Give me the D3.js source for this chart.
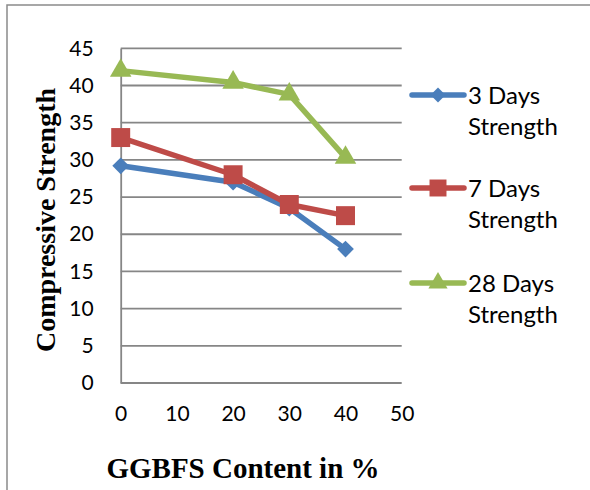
<!DOCTYPE html>
<html>
<head>
<meta charset="utf-8">
<script src="https://cdn.jsdelivr.net/npm/d3@7"></script>
<style>
  body { margin: 0; background: #fff; }
  .tick text { font-family: Lato, "Open Sans", sans-serif; font-size: 21px; fill: #000; }
  .axisTitle { font-family: "Liberation Serif", "Times New Roman", serif; font-weight: bold; }
  .legendText { font-family: Lato, "Open Sans", sans-serif; font-size: 24px; }
</style>
</head>
<body>
<svg width="590" height="490"></svg>
<script>
var width = 590;
var height = 490;

var ggbfs = [0, 20, 30, 40];
var days3 = [29.2, 27, 23.5, 18];
var days7 = [33, 28, 24, 22.5];
var days28 = [42, 40.4, 38.8, 30.3];
var seriesNames = ["3 Days", "7 Days", "28 Days"];
var xTicks = [0, 10, 20, 30, 40, 50];
var yTicks = [0, 5, 10, 15, 20, 25, 30, 35, 40, 45];

var colors = ["#4a7ebb", "#be4b48", "#98b954"];
var symbols = [d3.symbolSquare, d3.symbolSquare, d3.symbolTriangle];
var symSizes = [140, 360, 200];
var symRotate = [45, 0, 0];

var svg = d3.select("svg");

// outer frame
svg.append("rect")
  .attr("x", 7).attr("y", 5)
  .attr("width", 600).attr("height", 500)
  .attr("fill", "none").attr("stroke", "#8a8a8a").attr("stroke-width", 1.5);

var x = d3.scaleLinear().domain([0, 50]).range([120.7, 401.7]);
var y = d3.scaleLinear().domain([0, 45]).range([383, 48.3]);

// gridlines
svg.append("g").selectAll("line").data(yTicks)
  .enter().append("line")
  .attr("x1", x(0)).attr("x2", x(50))
  .attr("y1", function(d){ return y(d); })
  .attr("y2", function(d){ return y(d); })
  .attr("stroke", "#868686").attr("stroke-width", 1.8);

// y axis
var yAxis = svg.append("g")
  .attr("transform", "translate(" + x(0) + ",0)")
  .call(d3.axisLeft(y).tickValues(yTicks).tickSize(0).tickPadding(27));
yAxis.select(".domain").attr("stroke", "#868686").attr("stroke-width", 1.8);

// x axis
var xAxis = svg.append("g")
  .attr("transform", "translate(0," + y(0) + ")")
  .call(d3.axisBottom(x).tickValues(xTicks).tickSize(0).tickPadding(23));
xAxis.select(".domain").remove();

var allSeries = [days3, days7, days28];
var line = d3.line()
  .x(function(d, i){ return x(ggbfs[i]); })
  .y(function(d){ return y(d); });

allSeries.forEach(function(vals, k){
  svg.append("path")
    .datum(vals)
    .attr("d", line)
    .attr("fill", "none")
    .attr("stroke", colors[k])
    .attr("stroke-width", 5.5)
    .attr("stroke-linejoin", "round");
  svg.append("g").selectAll("path").data(vals)
    .enter().append("path")
    .attr("d", d3.symbol().type(symbols[k]).size(symSizes[k]))
    .attr("transform", function(d, i){
      return "translate(" + x(ggbfs[i]) + "," + y(d) + ") rotate(" + symRotate[k] + ")";
    })
    .attr("fill", colors[k]);
});

// legend
var legendY = [95, 188, 283];
seriesNames.forEach(function(name, k){
  var g = svg.append("g").attr("transform", "translate(0," + legendY[k] + ")");
  g.append("line")
    .attr("x1", 412).attr("x2", 464)
    .attr("y1", 0).attr("y2", 0)
    .attr("stroke", colors[k]).attr("stroke-width", 5.5)
    .attr("stroke-linecap", "round");
  g.append("path")
    .attr("d", d3.symbol().type(symbols[k]).size(symSizes[k] * 0.8))
    .attr("transform", "translate(438,0) rotate(" + symRotate[k] + ")")
    .attr("fill", colors[k]);
  var t = g.append("text").attr("class", "legendText").attr("x", 468).attr("y", 9);
  t.append("tspan").attr("x", 468).text(name);
  t.append("tspan").attr("x", 468).attr("dy", 31).text("Strength");
});

// axis titles
svg.append("text")
  .attr("class", "axisTitle")
  .attr("font-size", 28)
  .attr("text-anchor", "middle")
  .attr("transform", "translate(55,220) rotate(-90)")
  .text("Compressive Strength");

svg.append("text")
  .attr("class", "axisTitle")
  .attr("font-size", 29)
  .attr("text-anchor", "middle")
  .attr("x", 243).attr("y", 478)
  .text("GGBFS Content in %");
</script>
</body>
</html>
